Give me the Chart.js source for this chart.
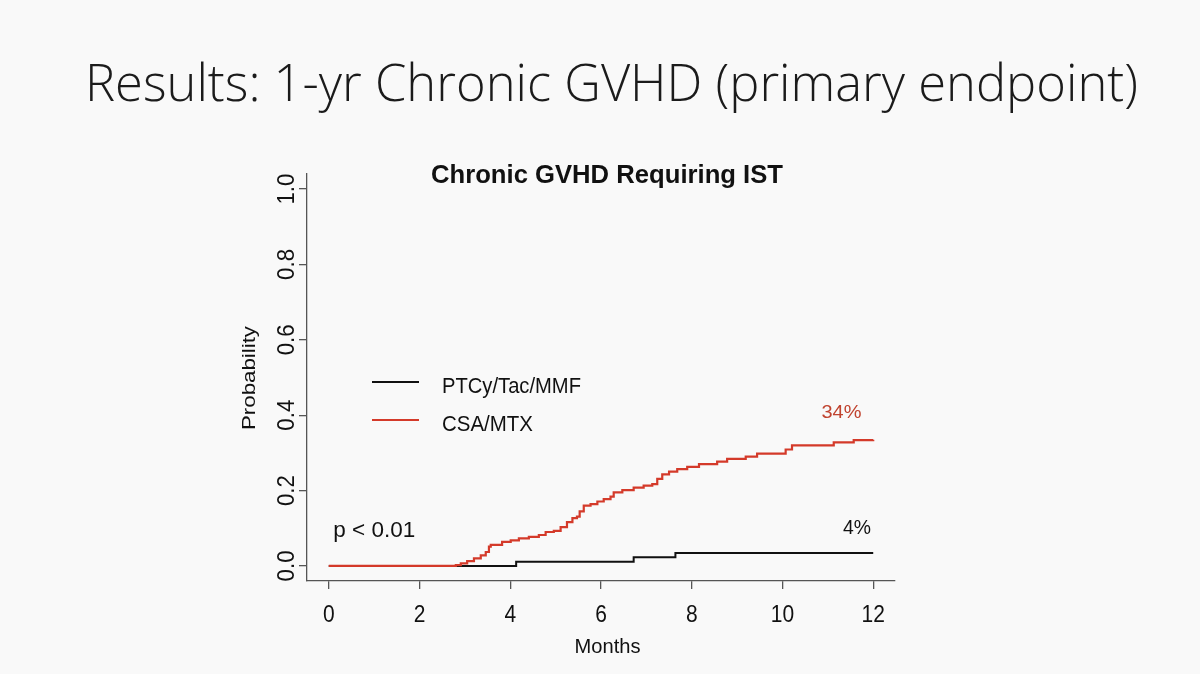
<!DOCTYPE html>
<html>
<head>
<meta charset="utf-8">
<script src="https://cdn.jsdelivr.net/npm/chart.js@4.4.1/dist/chart.umd.min.js"></script>
<style>
  html, body { margin: 0; padding: 0; background: #f9f9f9; }
  #wrap { width: 1200px; height: 674px; }
</style>
</head>
<body>
<div id="wrap"><canvas id="gvhd" width="1200" height="674"></canvas></div>
<script>
// 数据 (months, cumulative probability)
const ptcyMonths = [0, 4.13, 6.72, 7.64, 12.0];
const ptcyProb   = [0, 0.011, 0.023, 0.034, 0.034];

const csaMonths = [0, 2.80, 2.91, 3.05, 3.20, 3.35, 3.46, 3.53, 3.57, 3.82, 4.01, 4.19, 4.41, 4.63, 4.78, 4.96,
                   5.11, 5.25, 5.37, 5.47, 5.53, 5.62, 5.77, 5.92, 6.06, 6.21, 6.28, 6.47, 6.72, 6.94, 7.13,
                   7.24, 7.35, 7.50, 7.68, 7.90, 8.16, 8.56, 8.78, 9.19, 9.44, 10.07, 10.21, 11.13, 11.57, 12.0];
const csaProb   = [0, 0.002, 0.007, 0.013, 0.020, 0.028, 0.037, 0.051, 0.056, 0.064, 0.068, 0.073, 0.077, 0.082, 0.090, 0.093,
                   0.103, 0.116, 0.127, 0.131, 0.145, 0.160, 0.164, 0.171, 0.177, 0.184, 0.195, 0.201, 0.208, 0.213, 0.217,
                   0.231, 0.243, 0.250, 0.257, 0.263, 0.270, 0.277, 0.284, 0.290, 0.298, 0.309, 0.320, 0.328, 0.334, 0.335];

const xTicks = [0, 2, 4, 6, 8, 10, 12];
const yTicks = [0, 0.2, 0.4, 0.6, 0.8, 1.0];
const yTickLabels = ['0.0', '0.2', '0.4', '0.6', '0.8', '1.0'];
const seriesNames = ['PTCy/Tac/MMF', 'CSA/MTX'];

const BLACK = '#111111';
const RED = '#d43a2a';
const AXIS = '#555555';
const SANS = '"Liberation Sans", Arial, Helvetica, sans-serif';

function toPoints(xs, ys) {
    return xs.map((x, i) => ({ x: x, y: ys[i] }));
}

// 文字绘制, 可按目标宽度/高度拉伸
function drawText(ctx, str, x, y, o) {
    ctx.save();
    ctx.font = (o.weight || 'normal') + ' ' + o.size + 'px ' + (o.family || SANS);
    const w = ctx.measureText(str).width;
    const sx = o.width ? o.width / w : 1;
    ctx.translate(x, y);
    if (o.rotate) ctx.rotate(o.rotate);
    ctx.scale(sx, o.sy || 1);
    ctx.textAlign = o.align || 'left';
    ctx.textBaseline = 'alphabetic';
    ctx.fillStyle = o.color || '#111';
    ctx.fillText(str, 0, 0);
    ctx.restore();
}

const decorations = {
    id: 'decorations',
    beforeDraw(chart) {
        const ctx = chart.ctx;
        ctx.save();
        ctx.fillStyle = '#f9f9f9';
        ctx.fillRect(0, 0, chart.width, chart.height);
        ctx.restore();
    },
    afterDraw(chart) {
        const ctx = chart.ctx;
        const xs = chart.scales.x, ys = chart.scales.y;

        // slide title
        drawText(ctx, 'Results: 1-yr Chronic GVHD (primary endpoint)', 85, 101,
            { size: 51, weight: '300', family: '"Open Sans", Lato, sans-serif', width: 1053, color: '#1b1b1b' });
        // chart title
        drawText(ctx, 'Chronic GVHD Requiring IST', 607, 183,
            { size: 24, weight: 'bold', width: 352, align: 'center', sy: 1.08 });

        // x tick labels
        xTicks.forEach(v => {
            drawText(ctx, String(v), xs.getPixelForValue(v), 622, { size: 21, align: 'center', sy: 1.1 });
        });
        // y tick labels (rotated, R style)
        yTicks.forEach((v, i) => {
            drawText(ctx, yTickLabels[i], 294, ys.getPixelForValue(v),
                { size: 21, width: 31, align: 'center', rotate: -Math.PI / 2, sy: 1.12 });
        });

        // axis titles
        drawText(ctx, 'Months', 607.5, 653, { size: 18, width: 66, align: 'center', sy: 1.08 });
        drawText(ctx, 'Probability', 255, 378,
            { size: 18, width: 104, align: 'center', rotate: -Math.PI / 2, sy: 1.05 });

        // legend
        const legendY = [382, 420];
        const colors = [BLACK, RED];
        const textW = [139, 91];
        seriesNames.forEach((name, i) => {
            ctx.save();
            ctx.strokeStyle = colors[i];
            ctx.lineWidth = 2;
            ctx.beginPath();
            ctx.moveTo(372, legendY[i]);
            ctx.lineTo(419, legendY[i]);
            ctx.stroke();
            ctx.restore();
            drawText(ctx, name, 442, legendY[i] + 10.8, { size: 21, width: textW[i], sy: 1.05 });
        });

        // annotations
        drawText(ctx, 'p < 0.01', xs.getPixelForValue(0.1), ys.getPixelForValue(0.076),
            { size: 20, width: 82, sy: 1.08 });
        drawText(ctx, '4%', xs.getPixelForValue(11.95), ys.getPixelForValue(0.084),
            { size: 20, width: 28, align: 'right', sy: 1.05 });
        drawText(ctx, '34%', xs.getPixelForValue(11.3), ys.getPixelForValue(0.393),
            { size: 18, width: 40, align: 'center', color: '#c0432f', sy: 1.05 });
    }
};

const ctx = document.getElementById('gvhd').getContext('2d');
new Chart(ctx, {
    type: 'line',
    data: {
        datasets: [
            {
                label: seriesNames[1],
                data: toPoints(csaMonths, csaProb),
                borderColor: RED,
                borderWidth: 2.2,
                stepped: 'before',
                pointRadius: 0,
                fill: false
            },
            {
                label: seriesNames[0],
                data: toPoints(ptcyMonths, ptcyProb),
                borderColor: BLACK,
                borderWidth: 2,
                stepped: 'before',
                pointRadius: 0,
                fill: false
            }
        ]
    },
    options: {
        responsive: false,
        animation: false,
        devicePixelRatio: 1,
        layout: { padding: { left: 0, right: 305, top: 174, bottom: 33 } },
        plugins: {
            legend: { display: false },
            title: { display: false },
            tooltip: { enabled: false }
        },
        scales: {
            x: {
                type: 'linear',
                min: -0.48,
                max: 12.48,
                afterBuildTicks: axis => { axis.ticks = xTicks.map(v => ({ value: v })); },
                afterFit: axis => { axis.height = 60; },
                ticks: { display: false },
                grid: { drawOnChartArea: false, drawTicks: true, tickLength: 8, color: AXIS, lineWidth: 1.3 },
                border: { display: true, color: AXIS, width: 1.3 }
            },
            y: {
                type: 'linear',
                min: -0.04,
                max: 1.04,
                afterBuildTicks: axis => { axis.ticks = yTicks.map(v => ({ value: v })); },
                afterFit: axis => { axis.width = 307; },
                ticks: { display: false },
                grid: { drawOnChartArea: false, drawTicks: true, tickLength: 8, color: AXIS, lineWidth: 1.3 },
                border: { display: true, color: AXIS, width: 1.3 }
            }
        }
    },
    plugins: [decorations]
});
</script>
</body>
</html>
